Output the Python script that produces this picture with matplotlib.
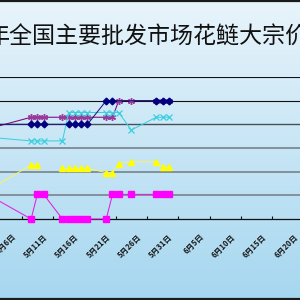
import numpy as np
import matplotlib
matplotlib.use("Agg")
import matplotlib.pyplot as plt
from matplotlib.transforms import ScaledTranslation
from matplotlib.lines import Line2D

plt.rcParams['font.family'] = ['Noto Sans CJK SC', 'DejaVu Sans']

title = "年全国主要批发市场花鲢大宗价"

# x values: day of May (0 = 4月30日)
navy_days = [0, 7, 8, 9, 13, 14, 15, 16, 19, 20, 27, 28, 29]
navy_vals = [6.0, 6.0, 6.0, 6.0, 6.0, 6.0, 6.0, 6.0, 6.5, 6.5, 6.5, 6.5, 6.5]

purple_days = [0, 7, 8, 9, 12, 13, 14, 15, 16, 19, 20, 21, 23, 27, 28, 29]
purple_vals = [5.9, 6.15, 6.15, 6.15, 6.15, 6.15, 6.15, 6.15, 6.15, 6.15, 6.15,
               6.5, 6.5, 6.5, 6.5, 6.5]

cyan_days = [0, 7, 8, 9, 12, 13, 14, 15, 16, 19, 20, 21, 23, 27, 28, 29]
cyan_vals = [5.73, 5.65, 5.65, 5.65, 5.65, 6.25, 6.25, 6.25, 6.25, 6.25, 6.25,
             6.25, 5.88, 6.15, 6.15, 6.15]

yellow_days = [0, 7, 8, 9, 12, 13, 14, 15, 16, 19, 20, 21, 23, 27, 28, 29]
yellow_vals = [4.60, 5.14, 5.14, np.nan, 5.07, 5.07, 5.07, 5.07, 5.07, 4.98, 4.98,
               5.17, 5.21, 5.21, 5.09, 5.09]

magenta_days = [0, 7, 8, 9, 12, 13, 14, 15, 16, 19, 20, 21, 23, 27, 28, 29]
magenta_vals = [4.52, 4.0, 4.52, 4.52, 4.0, 4.0, 4.0, 4.0, 4.0, 4.0, 4.52, 4.52,
                4.52, 4.52, 4.52, 4.52]

tick_days = [6, 11, 16, 21, 26, 31, 36, 41, 46, 51]
tick_labels = ["5月6日", "5月11日", "5月16日", "5月21日", "5月26日", "5月31日",
               "6月5日", "6月10日", "6月15日", "6月20日"]
grid_vals = [4.5, 5.0, 5.5, 6.0, 6.5, 7.0]

W = H = 300
fig = plt.figure(figsize=(3, 3), dpi=100)

# background gradient
bg = fig.add_axes([0, 0, 1, 1], zorder=-10)
grad = np.linspace(0, 1, 256)[:, None]
c_top = np.array([0xe8, 0xf4, 0xfb]) / 255
c_bot = np.array([0xa6, 0xd7, 0xf0]) / 255
img = c_top[None, None, :] * (1 - grad[:, :, None]) + c_bot[None, None, :] * grad[:, :, None]
bg.imshow(img, aspect='auto', extent=[0, 1, 0, 1])
bg.set_axis_off()

# plot area (extends beyond the figure on both sides)
ax = fig.add_axes([-44 / W, 81 / H, 406.9 / W, 142 / H])
ax.set_facecolor('none')
ax.set_xlim(-5, 60)
ax.set_ylim(4.0, 7.0)

grid_colors = {7.0: ('#111111', 0.8), 6.5: ('#111111', 0.8), 6.0: ('#4a4f55', 1.0)}
for v in grid_vals:
    col, lw = grid_colors.get(v, ('#7d8a94', 1.3))
    ax.axhline(v, color=col, lw=lw, zorder=1)

lw = 0.75
ax.plot(purple_days, purple_vals, color='#800080', lw=lw, marker=(6, 2, 0),
        ms=5, mew=1.0, mec='#9a3a9a', zorder=3, clip_on=False)
ax.plot(navy_days, navy_vals, color='#1a1a7a', lw=lw, marker='D', ms=3.4,
        mfc='#000080', mec='#000080', zorder=4, clip_on=False)
ax.plot(cyan_days, cyan_vals, color='#3ccfe0', lw=lw, marker='x', ms=4,
        mew=0.9, mec='#3ccfe0', zorder=3, clip_on=False)
ax.plot(yellow_days, yellow_vals, color='#f6f36a', lw=lw, marker='^', ms=4.6,
        mfc='#ffff00', mec='#ffff00', zorder=3, clip_on=False)
ax.plot(magenta_days, magenta_vals, color='#e020e0', lw=lw, marker='s', ms=4.4,
        mfc='#ff00ff', mec='#ff00ff', zorder=3, clip_on=False)

for s in ['top', 'left', 'right']:
    ax.spines[s].set_visible(False)
ax.spines['bottom'].set_color('#111111')
ax.spines['bottom'].set_linewidth(0.9)
ax.set_yticks([])
ax.set_xticks([d - 0.5 for d in tick_days])
ax.set_xticklabels(tick_labels, rotation=45, rotation_mode='anchor',
                   ha='right', va='center', fontsize=5.6, fontweight='bold',
                   color='#1a1a1a')
ax.tick_params(axis='x', direction='in', length=2.2, width=0.8, color='#111111', pad=0)
off = ScaledTranslation(-0.07, -0.165, fig.dpi_scale_trans)
for lab in ax.get_xticklabels():
    lab.set_transform(lab.get_transform() + off)

# title (partially cut off on the left, as in the reference)
fig.text(-13.5 / W, 1 - 37.5 / H, title, ha='left', va='center', fontsize=16.6,
         color='#111111')

# outer frame lines at top and bottom
fig.add_artist(Line2D([0, 1], [1 - 1 / H, 1 - 1 / H], transform=fig.transFigure,
                      color='#1a1a1a', lw=1.6))
fig.add_artist(Line2D([0, 1], [1 / H, 1 / H], transform=fig.transFigure,
                      color='#1a1a1a', lw=1.6))

fig.savefig('out.png', dpi=100)
